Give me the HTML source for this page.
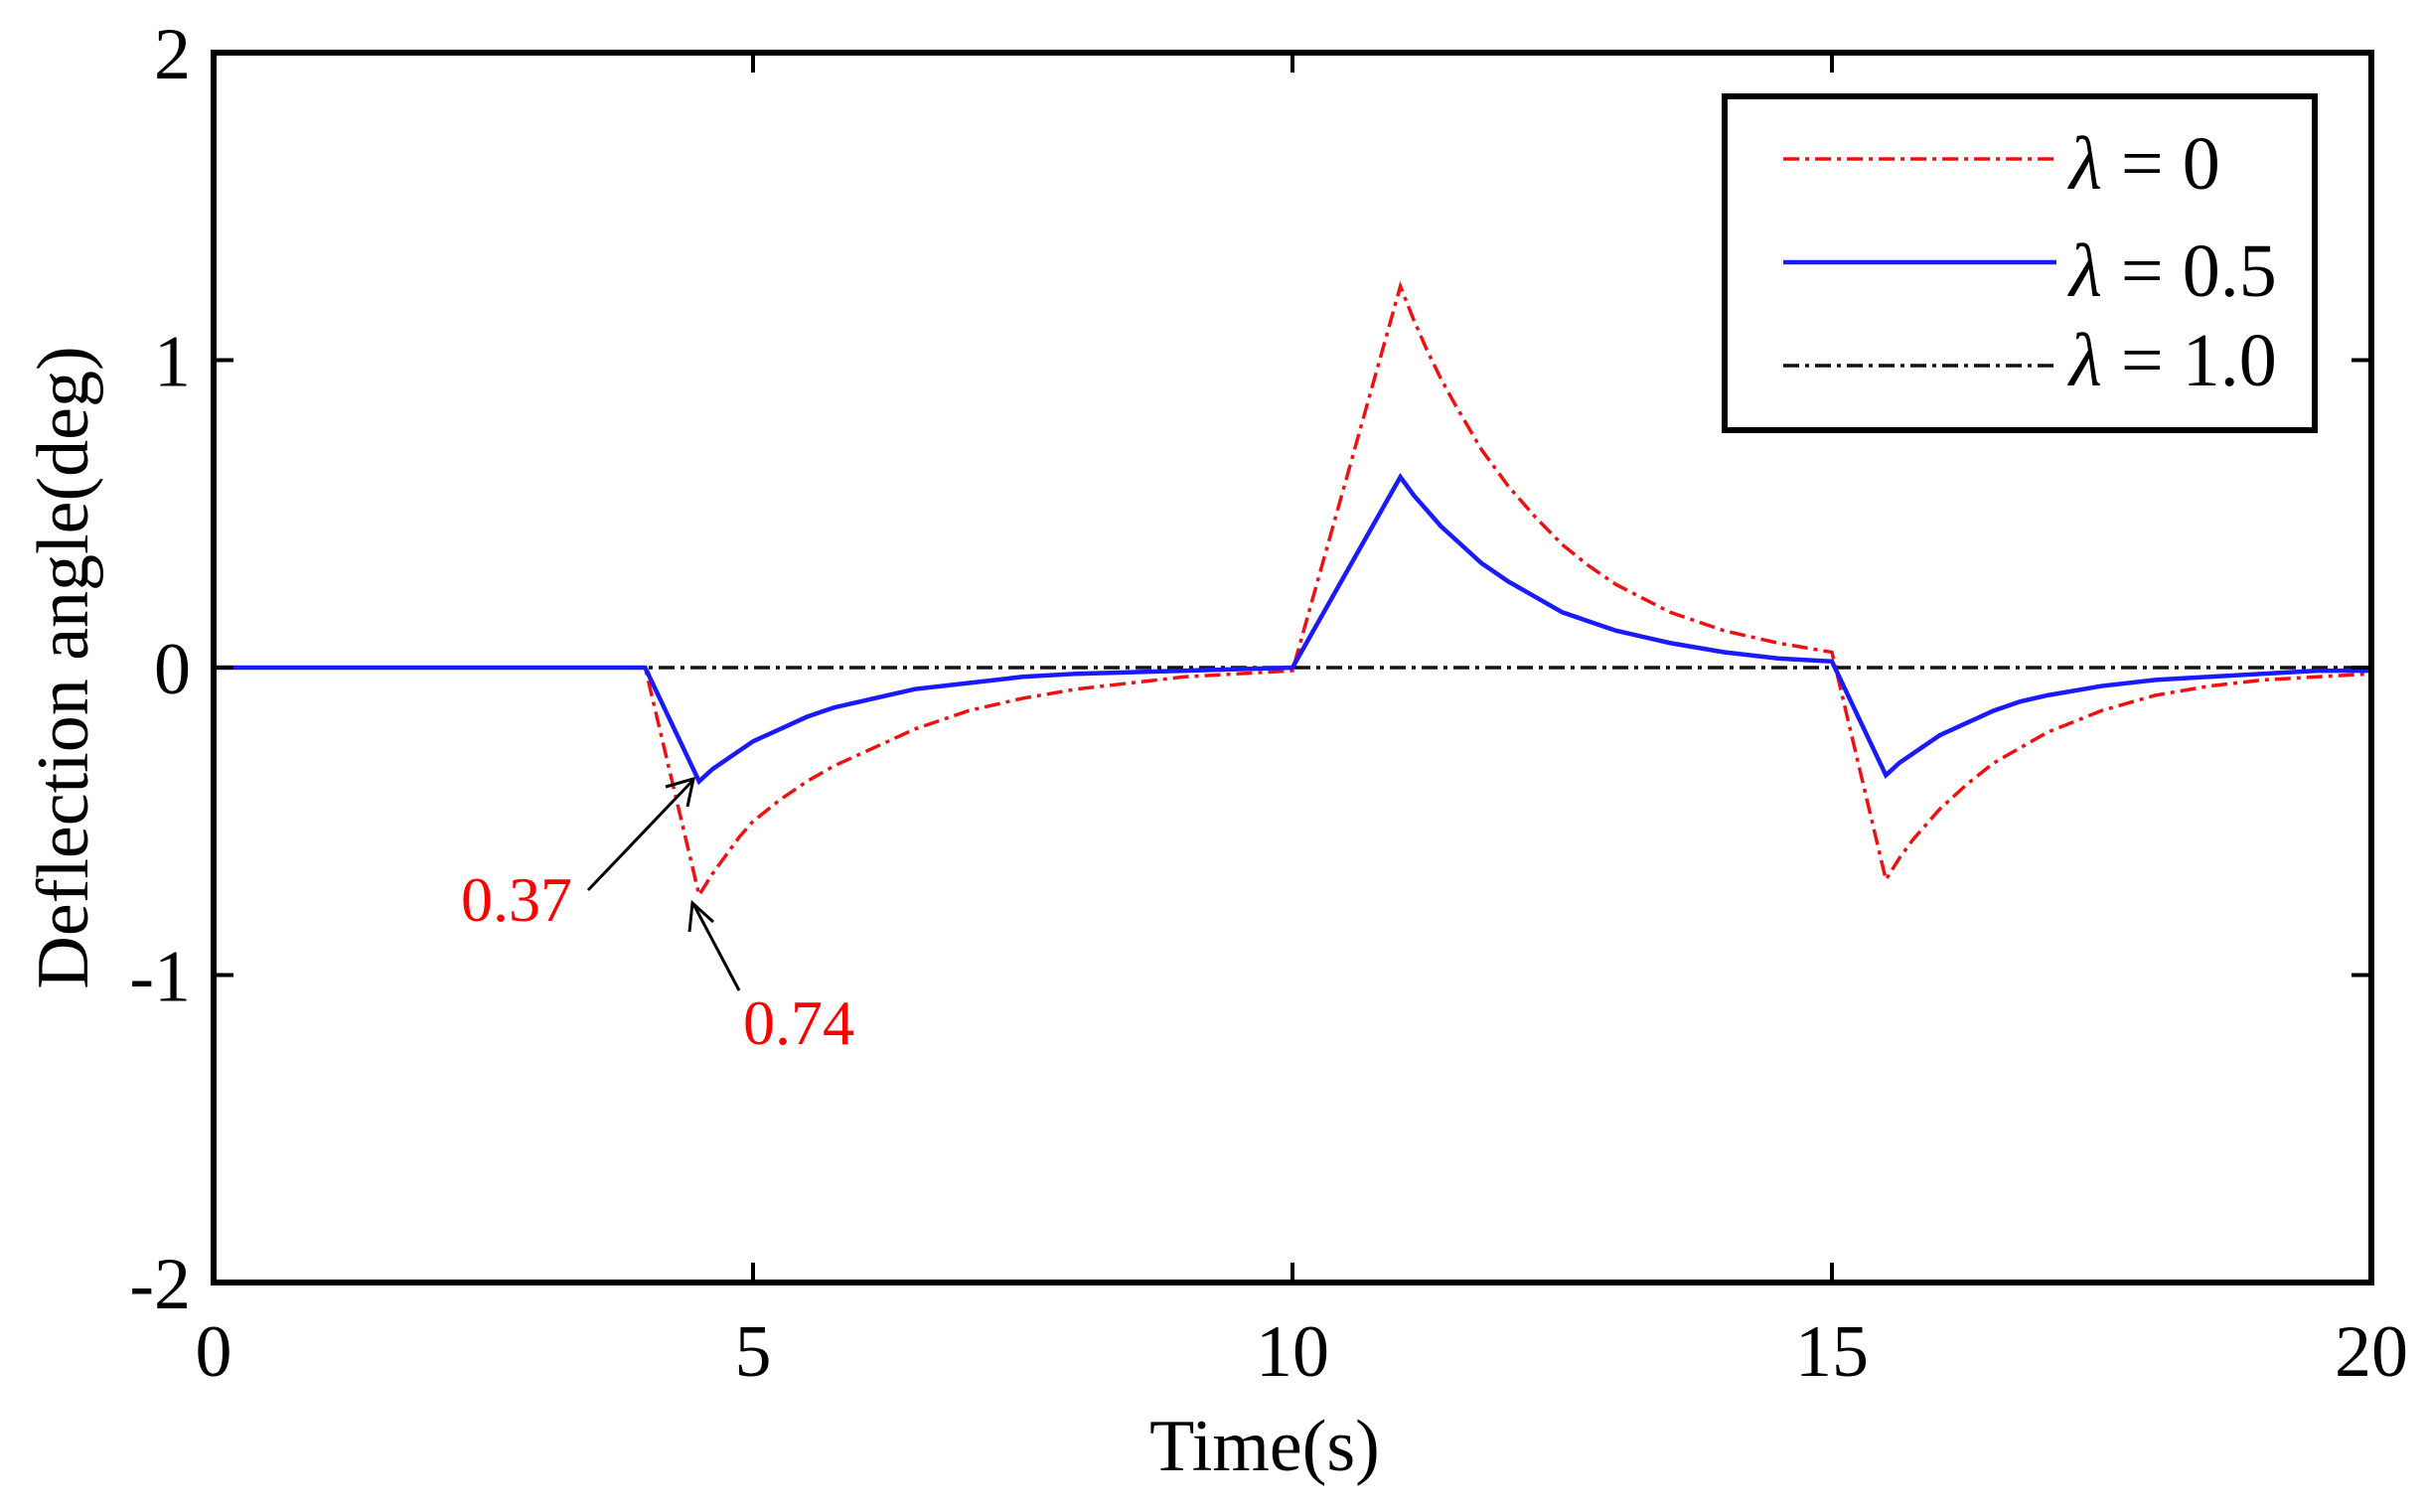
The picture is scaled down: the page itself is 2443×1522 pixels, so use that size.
<!DOCTYPE html>
<html><head><meta charset="utf-8"><style>
html,body{margin:0;padding:0;background:#fff;}
svg text{font-family:"Liberation Serif",serif;}
</style></head><body>
<svg width="2443" height="1517" viewBox="0 0 2443 1517" xmlns="http://www.w3.org/2000/svg">
<g id="plot"></g>
<script>
const xTicks=[0,5,10,15,20];
const yTicks=[-2,-1,0,1,2];
const times=[0,4,4.5,4.625,4.75,4.875,5,5.25,5.5,5.75,6,6.5,7,7.5,8,9,10,11,11.125,11.25,11.375,11.5,11.75,12,12.25,12.5,12.75,13,13.5,14,14.5,15,15.5,15.625,15.75,15.875,16,16.25,16.5,16.75,17,17.5,18,18.5,19,19.5,20];
const red=[0,0,-0.74,-0.67,-0.61,-0.55,-0.5,-0.43,-0.37,-0.32,-0.28,-0.2,-0.14,-0.1,-0.07,-0.03,-0.01,1.24,1.13,1.03,0.94,0.86,0.71,0.59,0.49,0.4,0.33,0.27,0.18,0.12,0.08,0.05,-0.69,-0.62,-0.56,-0.51,-0.46,-0.38,-0.31,-0.26,-0.21,-0.14,-0.09,-0.06,-0.04,-0.03,-0.02];
const blue=[0,0,-0.37,-0.33,-0.3,-0.27,-0.24,-0.2,-0.16,-0.13,-0.11,-0.07,-0.05,-0.03,-0.02,-0.01,0,0.62,0.56,0.51,0.46,0.42,0.34,0.28,0.23,0.18,0.15,0.12,0.08,0.05,0.03,0.02,-0.35,-0.31,-0.28,-0.25,-0.22,-0.18,-0.14,-0.11,-0.09,-0.06,-0.04,-0.03,-0.02,-0.01,-0.01];
const black=times.map(()=>0);
const X0=215,X1=2387,Y0=53,Y1=1291;
const sx=v=>X0+(v-0)/(20-0)*(X1-X0);
const sy=v=>Y1-(v+2)/4*(Y1-Y0);
const NS="http://www.w3.org/2000/svg";
const g=document.getElementById('plot');
function mk(tag,attrs){const e=document.createElementNS(NS,tag);for(const k in attrs)e.setAttribute(k,attrs[k]);g.appendChild(e);return e;}
function series(vals,color,w,dash,name){
  const p=mk('polyline',{points:times.map((t,i)=>sx(t)+','+sy(vals[i])).join(' '),fill:'none',stroke:color,'stroke-width':w,'stroke-dasharray':dash,'stroke-linejoin':'miter'});
  
  
}
series(black,'#111',3.5,'16,6,4,6','series-lambda-1-0');
series(red,'#f01010',3.5,'16,6,4,6','series-lambda-0');
series(blue,'#1a1aff',4.5,'','series-lambda-0-5');
const box=mk('rect',{x:X0,y:Y0,width:X1-X0,height:Y1-Y0,fill:'none',stroke:'#000','stroke-width':6});


xTicks.forEach(t=>{
  const x=sx(t);
  mk('line',{x1:x,y1:Y1,x2:x,y2:Y1-20,stroke:'#000','stroke-width':4});
  mk('line',{x1:x,y1:Y0,x2:x,y2:Y0+20,stroke:'#000','stroke-width':4});
  const tx=mk('text',{x:x,y:1385,'font-size':74,'text-anchor':'middle'});
  tx.textContent=t;
  
  
});
yTicks.forEach(t=>{
  const y=sy(t);
  mk('line',{x1:X0,y1:y,x2:X0+20,y2:y,stroke:'#000','stroke-width':4});
  mk('line',{x1:X1,y1:y,x2:X1-20,y2:y,stroke:'#000','stroke-width':4});
  const tx=mk('text',{x:192,y:y+26,'font-size':74,'text-anchor':'end'});
  tx.textContent=t;
  
  
});
</script>
<text x="1273" y="1480" font-size="74" text-anchor="middle">Time(s)</text>
<text transform="translate(88,672) rotate(-90)" font-size="74" text-anchor="middle">Deflection angle(deg)</text>
<g>
<rect x="1736" y="97" width="594" height="336" fill="#fff" stroke="#000" stroke-width="6"/>
<line x1="1795" y1="160" x2="2070" y2="160" stroke="#f01010" stroke-width="3.5" stroke-dasharray="16,6,4,6"/>
<line x1="1795" y1="264" x2="2070" y2="264" stroke="#1a1aff" stroke-width="4.5"/>
<line x1="1795" y1="368" x2="2070" y2="368" stroke="#111" stroke-width="3.5" stroke-dasharray="16,6,4,6"/>
<text x="2083" y="190" font-size="76"><tspan font-style="italic">λ</tspan> = 0</text>
<text x="2083" y="298" font-size="76"><tspan font-style="italic">λ</tspan> = 0.5</text>
<text x="2083" y="388" font-size="76"><tspan font-style="italic">λ</tspan> = 1.0</text>
</g>
<g>
<line x1="592" y1="896" x2="697" y2="786" stroke="#000" stroke-width="3"/>
<polyline points="670,792 698,784 692,812" fill="none" stroke="#000" stroke-width="3"/>
<line x1="744" y1="997" x2="698" y2="910" stroke="#000" stroke-width="3"/>
<polyline points="694,938 697,909 718,928" fill="none" stroke="#000" stroke-width="3"/>
<text x="464" y="927" font-size="64" fill="#f00">0.37</text>
<text x="748" y="1051" font-size="64" fill="#f00">0.74</text>
</g>
</svg>
</body></html>
